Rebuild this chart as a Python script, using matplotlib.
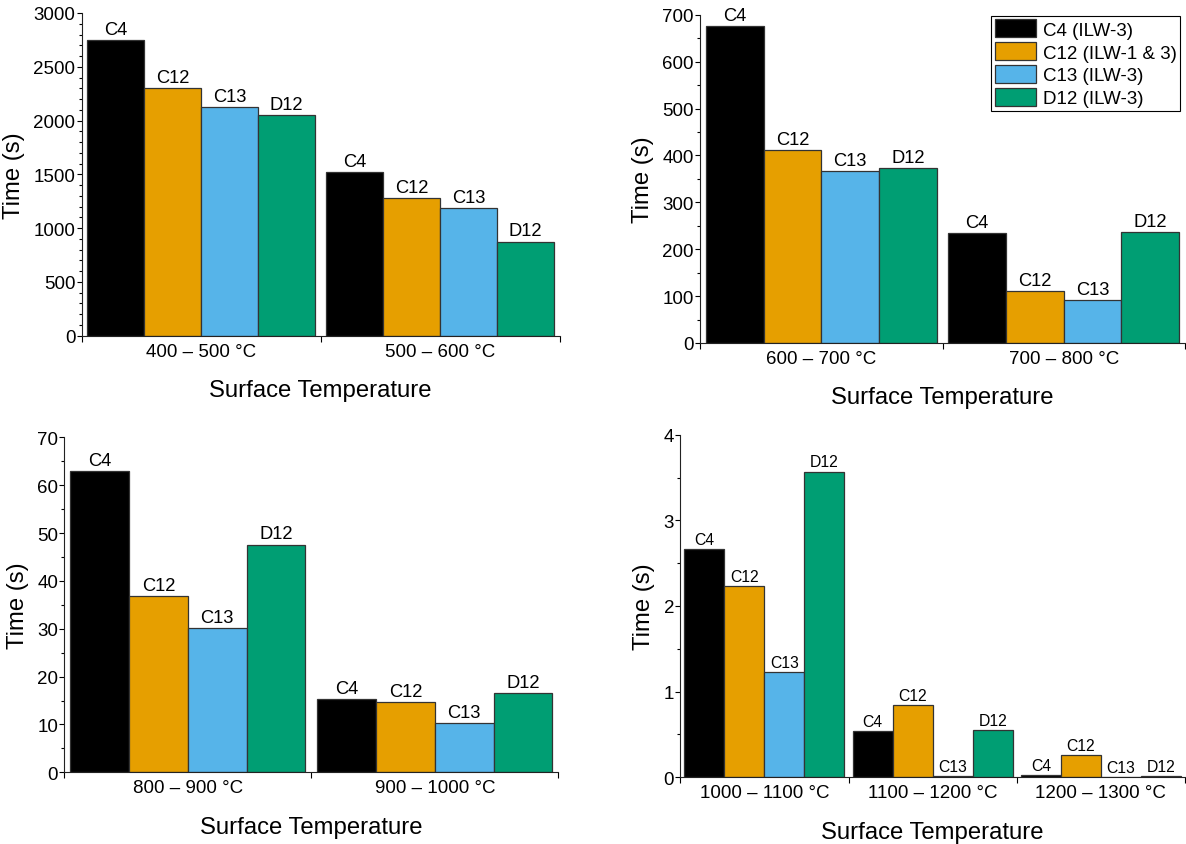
import matplotlib.pyplot as plt
import numpy as np
from matplotlib.ticker import MultipleLocator, FixedLocator

plt.rcParams['font.family'] = ['Liberation Sans', 'DejaVu Sans']

SERIES = ["C4", "C12", "C13", "D12"]
LEGEND = ["C4 (ILW-3)", "C12 (ILW-1 & 3)", "C13 (ILW-3)", "D12 (ILW-3)"]
COLORS = ["#000000", "#E69F00", "#56B4E9", "#009E73"]

# top left
temps_a = ["400 – 500 °C", "500 – 600 °C"]
c4_a = [2750, 1525]
c12_a = [2300, 1277]
c13_a = [2122, 1190]
d12_a = [2049, 875]

# top right
temps_b = ["600 – 700 °C", "700 – 800 °C"]
c4_b = [676, 234]
c12_b = [411, 110]
c13_b = [366, 91]
d12_b = [374, 237]

# bottom left
temps_c = ["800 – 900 °C", "900 – 1000 °C"]
c4_c = [62.9, 15.4]
c12_c = [36.9, 14.6]
c13_c = [30.1, 10.2]
d12_c = [47.6, 16.5]

# bottom right
temps_d = ["1000 – 1100 °C", "1100 – 1200 °C", "1200 – 1300 °C"]
c4_d = [2.67, 0.54, 0.03]
c12_d = [2.23, 0.84, 0.26]
c13_d = [1.23, 0.01, 0.004]
d12_d = [3.57, 0.55, 0.02]

W, H = 1186, 845
fig = plt.figure(figsize=(W / 100, H / 100), dpi=100)


def px_axes(left, right, top, bottom):
    return fig.add_axes([left / W, 1 - bottom / H, (right - left) / W, (bottom - top) / H])


# (axes box in px, temps, series, ymax, major, minor, bar label size)
PANELS = [
    ((81.7, 559.7, 14.0, 336.7), temps_a, [c4_a, c12_a, c13_a, d12_a], 3000, 500, 100, 13.2),
    ((700.0, 1185.0, 15.7, 344.0), temps_b, [c4_b, c12_b, c13_b, d12_b], 700, 100, 50, 13.2),
    ((64.3, 558.3, 438.3, 773.3), temps_c, [c4_c, c12_c, c13_c, d12_c], 70, 10, 5, 13.2),
    ((680.3, 1185.0, 435.7, 778.3), temps_d, [c4_d, c12_d, c13_d, d12_d], 4, 1, 0.5, 11.3),
]

bw = 0.238
axes = []
for box, temps, vals, ymax, major, minor, lsize in PANELS:
    ax = px_axes(*box)
    axes.append(ax)
    n = len(temps)
    x = np.arange(n)
    for k, (name, v, c) in enumerate(zip(SERIES, vals, COLORS)):
        bars = ax.bar(x + (k - 1.5) * bw, v, width=bw, color=c, edgecolor="#333333",
                      linewidth=0.9, label=LEGEND[k])
        ax.bar_label(bars, labels=[name] * n, padding=1.5, fontsize=lsize)
    ax.set_xlim(-0.5, n - 0.5)
    ax.set_ylim(0, ymax)
    ax.yaxis.set_major_locator(MultipleLocator(major))
    ax.yaxis.set_minor_locator(MultipleLocator(minor))
    ax.set_xticks(x, temps)
    ax.xaxis.set_minor_locator(FixedLocator(np.arange(n + 1) - 0.5))
    ax.tick_params(axis="x", which="major", length=0, pad=5, labelsize=13.5)
    ax.tick_params(axis="x", which="minor", length=4.5, width=0.8, direction="out")
    ax.tick_params(axis="y", which="major", length=3.5, width=0.8, pad=1, labelsize=13.5)
    ax.tick_params(axis="y", which="minor", length=2, width=0.8)
    for s in ("top", "right"):
        ax.spines[s].set_visible(False)
    for s in ("left", "bottom"):
        ax.spines[s].set_linewidth(0.8)
        ax.spines[s].set_color("#222222")
    ax.set_ylabel("Time (s)", fontsize=17.2, labelpad=6)
    ax.set_xlabel("Surface Temperature", fontsize=17.2, labelpad=14)

axes[1].legend(loc="upper right", bbox_to_anchor=(0.99, 0.997), fontsize=13.5,
               frameon=True, fancybox=False, edgecolor="black", framealpha=1,
               handlelength=2.2, handleheight=1.1, handletextpad=0.35,
               labelspacing=0.18, borderpad=0.2, borderaxespad=0)
axes[1].get_legend().get_frame().set_linewidth(0.8)

fig.savefig("out.png", dpi=100)
